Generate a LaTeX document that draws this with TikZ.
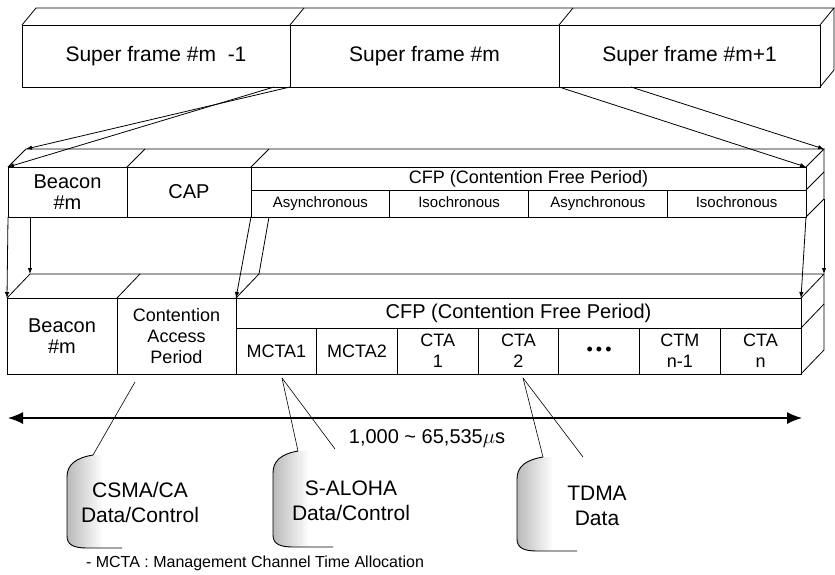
\documentclass[tikz,border=0pt]{standalone}
\usepackage{fontspec}
\setmainfont{Liberation Sans}
\usepackage{tikz}
\usetikzlibrary{arrows.meta,positioning,calc}

\begin{document}
\begin{tikzpicture}[
  x=1pt, y=-1pt,
  line width=0.8pt,
  cell/.style={
    rectangle, draw, anchor=north west,
    inner sep=0pt, outer sep=0pt, align=center
  },
  sframe/.style={cell, minimum height=62pt, font=\fontsize{21}{25}\selectfont},
  bigtxt/.style={font=\fontsize{20}{21}\selectfont},
  midtxt/.style={font=\fontsize{18}{21}\selectfont},
  smalltxt/.style={font=\fontsize{15}{18}\selectfont},
  note/.style={align=center, font=\fontsize{21}{25}\selectfont},
  arr/.style={-{Latex[length=6pt,width=4.5pt]}, line width=0.8pt},
  span/.style={{Latex[length=15pt,width=12pt]}-{Latex[length=15pt,width=12pt]}, line width=1.4pt},
  pin/.style={line width=0.6pt},
  balloon/.style={line width=0.9pt}
]
  \useasboundingbox (0,0) rectangle (835,574);

  % super frames
  \node[sframe, minimum width=268pt] (sfPrev) at (22,25) {Super frame \#m\ \ -1};
  \node[sframe, minimum width=269pt] (sfCur)  at (290,25) {Super frame \#m};
  \node[sframe, minimum width=261pt] (sfNext) at (559,25) {Super frame \#m+1};
  \coordinate (sfBackL) at ($(sfPrev.north west)+(14,-17)$);
  \coordinate (sfBackR) at ($(sfNext.north east)+(14,-17)$);
  \draw (sfPrev.north west) -- (sfBackL) -- (sfBackR) -- (sfNext.north east);
  \draw (sfCur.north west) -- ++(14,-17);
  \draw (sfNext.north west) -- ++(14,-17);
  \draw (sfBackR) -- ++(0,62) -- (sfNext.south east);

  % superframe #m
  \node[cell, bigtxt, minimum width=119pt, minimum height=50pt] (midBeacon) at (8,167) {Beacon\\\#m};
  \node[cell, bigtxt, minimum width=124pt, minimum height=50pt] (midCap) at (127,167) {CAP};
  \node[cell, midtxt, minimum width=555pt, minimum height=23pt] (midCfp) at (251,167) {CFP (Contention Free Period)};
  \foreach \i/\lbl in {0/Asynchronous,1/Isochronous,2/Asynchronous,3/Isochronous}
    \node[cell, smalltxt, minimum width=138.75pt, minimum height=27pt,
          text height=11pt, text depth=3.5pt] (midSub\i) at (251+\i*138.75,190) {\lbl};
  \coordinate (midBackL) at ($(midBeacon.north west)+(18,-18)$);
  \coordinate (midBackR) at ($(midCfp.north east)+(18,-18)$);
  \coordinate (midBackRB) at ($(midBackR)+(0,50)$);
  \draw (midBeacon.north west) -- (midBackL) -- (midBackR) -- (midCfp.north east);
  \draw (midCap.north west) -- ++(18,-18);
  \draw (midCfp.north west) -- ++(18,-18);
  \draw (midBackR) -- (midBackRB) -- (midSub3.south east);
  \draw (midCfp.south east) -- ++(18,-18);

  % detail of superframe #m
  \node[cell, bigtxt, minimum width=110pt, minimum height=76pt] (lowBeacon) at (7,298) {Beacon\\\#m};
  \node[cell, midtxt, minimum width=119pt, minimum height=76pt] (lowCap) at (117,298) {Contention\\Access\\Period};
  \node[cell, bigtxt, minimum width=565pt, minimum height=30pt] (lowCfp) at (236,298) {CFP (Contention Free Period)};
  \foreach \i/\lbl in {0/MCTA1,1/MCTA2,2/CTA\\1,3/CTA\\2,4/\textbullet\,\textbullet\,\textbullet,5/CTM\\n-1,6/CTA\\n}
    \node[cell, midtxt, minimum width=80.7pt, minimum height=46pt] (lowSub\i) at (236+\i*80.7,328) {\lbl};
  \coordinate (lowBackL) at ($(lowBeacon.north west)+(23,-24)$);
  \coordinate (lowBackC) at ($(lowCfp.north west)+(23,-24)$);
  \coordinate (lowBackR) at ($(lowCfp.north east)+(23,-24)$);
  \draw (lowBeacon.north west) -- (lowBackL) -- (lowBackR) -- (lowCfp.north east);
  \draw (lowCap.north west) -- ++(23,-24);
  \draw (lowCfp.north west) -- (lowBackC);
  \draw (lowBackR) -- ++(0,76) -- (lowSub6.south east);
  \draw (lowCfp.south east) -- ++(23,-24);

  % zoom lines
  \coordinate (sfSplitL) at ($(sfPrev.south east)+(-16,0)$);
  \coordinate (sfSplitR) at ($(sfNext.south west)+(72,0)$);
  \draw[arr] (sfSplitL) -- (midBeacon.north west);
  \draw[arr] (sfPrev.south east) -- (midBackL);
  \draw[arr] (sfNext.south west) -- (midCfp.north east);
  \draw[arr] (sfSplitR) -- (midBackR);

  \coordinate (midDropL) at (lowBackL |- midBeacon.south);
  \coordinate (midDropC) at ($(midSub0.south west)+(18,0)$);
  \draw[arr] (midBeacon.south west) -- (lowBeacon.north west);
  \draw[arr] (midDropL) -- (lowBackL);
  \draw[arr] (midSub0.south west) -- (lowCfp.north west);
  \draw (midDropC) -- (lowBackC);
  \draw[arr] (midSub3.south east) -- (lowCfp.north east);
  \draw[arr] (midBackRB) -- (lowBackR);

  % length
  \coordinate (spanL) at (8,418);
  \coordinate (spanR) at (802,418);
  \draw[span] (spanL) -- (spanR);
  \node[bigtxt] (spanLbl) at (427,439) {1,000 \textasciitilde{} 65,535$\mu$s};

  % access methods
  \coordinate (csmaTip)  at (135,382);
  \coordinate (alohaTip) at (282,378);
  \coordinate (tdmaTip)  at (523,378);
  \foreach \nm/\L/\Tx/\Ty/\B/\E in {csma/67/93/455/548/122, aloha/273/298/451/547/333, tdma/517/543/457/551/577} {
    \coordinate (\nm Top) at (\Tx,\Ty);
    \shade[left color=gray!55, right color=white]
      (\nm Top) .. controls (\L+8,\Ty+3) and (\L,\Ty+10) .. (\L,\Ty+22)
      -- (\L,\B-12) .. controls (\L,\B-3) and (\L+7,\B) .. (\L+20,\B)
      -- (\L+36,\B) -- (\L+36,\Ty) -- cycle;
    \draw[balloon] (\nm Top) .. controls (\L+8,\Ty+3) and (\L,\Ty+10) .. (\L,\Ty+22)
      -- (\L,\B-12) .. controls (\L,\B-3) and (\L+7,\B) .. (\L+20,\B) -- (\E,\B);
  }
  \coordinate (alohaEnd) at (335,449);
  \coordinate (tdmaEnd)  at (583,457);
  \draw[pin] (csmaTip) -- (csmaTop);
  \draw[pin] (alohaTip) -- (alohaTop);
  \draw[pin] (alohaTip) -- (alohaEnd);
  \draw[pin] (tdmaTip) -- (tdmaTop);
  \draw[pin] (tdmaTip) -- (tdmaEnd);
  \node[note] (csma)  at (140,502) {CSMA/CA\\Data/Control};
  \node[note] (aloha) at (351,501) {S-ALOHA\\Data/Control};
  \node[note] (tdma)  at (597,506) {TDMA\\Data};

  \node[font=\fontsize{16}{19}\selectfont] (legend) at (255,563) {- MCTA : Management Channel Time Allocation};
\end{tikzpicture}
\end{document}
